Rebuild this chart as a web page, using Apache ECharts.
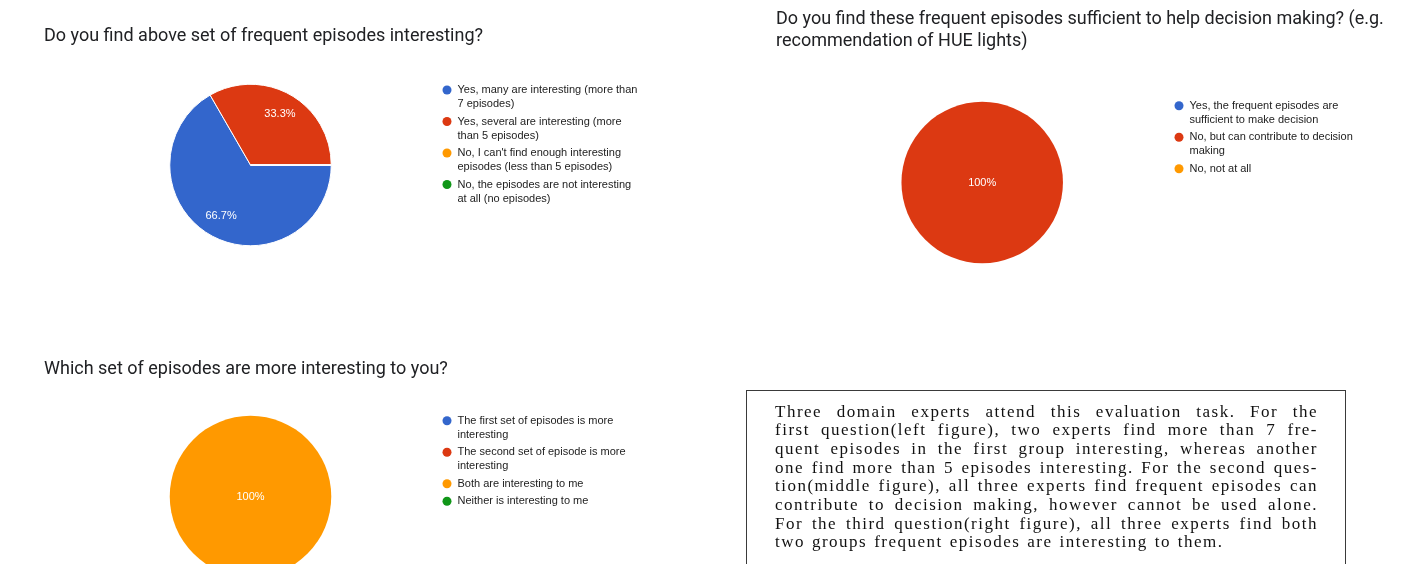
<!DOCTYPE html>
<html>
<head>
<meta charset="utf-8">
<title>Survey results</title>
<script src="https://cdn.jsdelivr.net/npm/echarts@6/dist/echarts.min.js"></script>
<style>
  html, body { margin: 0; padding: 0; background: #ffffff; }
  #wrap { position: relative; width: 1402px; height: 564px; overflow: hidden; }
  #chart { position: absolute; left: 0; top: 0; width: 1402px; height: 564px; }
  #note {
    position: absolute; left: 746px; top: 390px; width: 600px; height: 220px;
    box-sizing: border-box; border: 1px solid #3a3a3a;
    padding: 11.5px 27px 0 28px;
    font-family: "Liberation Serif", "DejaVu Serif", serif; font-size: 17px;
    line-height: 18.7px; color: #111; letter-spacing: 1.5px; word-spacing: 1.2px;
  }
  #note .ln { white-space: nowrap; text-align: justify; text-align-last: justify; }
  #note .ln.last { text-align: left; text-align-last: left; }
</style>
</head>
<body>
<div id="wrap">
  <div id="chart"></div>
  <div id="note"></div>
</div>
<script>
// Google-style answer colours
const palette = ['#3366cc', '#dc3912', '#ff9900', '#109618'];

// Question 1
const q1Title = 'Do you find above set of frequent episodes interesting?';
const q1Options = [
  'Yes, many are interesting (more than 7 episodes)',
  'Yes, several are interesting (more than 5 episodes)',
  "No, I can't find enough interesting episodes (less than 5 episodes)",
  'No, the episodes are not interesting at all (no episodes)'
];
const q1Counts = [2, 1, 0, 0];

// Question 2
const q2Title = 'Do you find these frequent episodes sufficient to help decision making? (e.g.\nrecommendation of HUE lights)';
const q2Options = [
  'Yes, the frequent episodes are sufficient to make decision',
  'No, but can contribute to decision making',
  'No, not at all'
];
const q2Counts = [0, 3, 0];

// Question 3
const q3Title = 'Which set of episodes are more interesting to you?';
const q3Options = [
  'The first set of episodes is more interesting',
  'The second set of episode is more interesting',
  'Both are interesting to me',
  'Neither is interesting to me'
];
const q3Counts = [0, 0, 3, 0];

// Summary paragraph, one entry per typeset line
const noteLines = [
  'Three domain experts attend this evaluation task.  For the',
  'first question(left figure), two experts find more than 7 fre-',
  'quent episodes in the first group interesting, whereas another',
  'one find more than 5 episodes interesting. For the second ques-',
  'tion(middle figure), all three experts find frequent episodes can',
  'contribute to decision making, however cannot be used alone.',
  'For the third question(right figure), all three experts find both',
  'two groups frequent episodes are interesting to them.'
];

// ---- layout constants ----
const R = 80.75;             // pie radius
const LABEL_R0 = 31;         // inner radius of the label ring
const LEG_FONT = '11px "Liberation Sans"';
const LEG_LH = 14;           // legend line height
const LEG_GAP = 3.5;         // gap between legend entries
const LEG_WRAP = 183;        // legend text wrap width
const LEG_ICON_W = 11;

// word-wrap legend text with the same font the legend uses
const measureCtx = document.createElement('canvas').getContext('2d');
measureCtx.font = LEG_FONT;
function wrapText(text) {
  const words = text.split(' ');
  const lines = [];
  let cur = '';
  words.forEach(w => {
    const trial = cur ? cur + ' ' + w : w;
    if (cur && measureCtx.measureText(trial).width > LEG_WRAP) {
      lines.push(cur);
      cur = w;
    } else {
      cur = trial;
    }
  });
  if (cur) lines.push(cur);
  return lines;
}

// dot icon sitting on the first text line of an entry that is h px tall
function dotIcon(h) {
  const cy = LEG_LH / 2;
  return 'path://M0,0M' + LEG_ICON_W + ',' + h +
    'M1,' + cy + 'a4.5,4.5 0 1,0 9,0a4.5,4.5 0 1,0 -9,0Z';
}

// one legend component per run of entries with equal line count
function legendsFor(names, left, top) {
  const out = [];
  let y = top;
  let i = 0;
  while (i < names.length) {
    const n = wrapText(names[i]).length;
    const run = [];
    while (i < names.length && wrapText(names[i]).length === n) run.push(names[i++]);
    const h = n * LEG_LH;
    out.push({
      orient: 'vertical', left: left, top: y, padding: 0,
      itemWidth: LEG_ICON_W, itemHeight: h, itemGap: LEG_GAP,
      icon: dotIcon(h), selectedMode: false,
      itemStyle: { borderWidth: 0 },
      textStyle: {
        fontFamily: 'Liberation Sans', fontSize: 11, color: '#222222',
        lineHeight: LEG_LH
      },
      formatter: name => wrapText(name).join('\n'),
      data: run
    });
    y += run.length * (h + LEG_GAP);
  }
  return out;
}

function pieData(names, counts) {
  return names.map((n, i) => ({ name: n, value: counts[i], itemStyle: { color: palette[i] } }));
}

// filled pie plus a transparent ring carrying the percentage labels
function pies(names, counts, center, labelPos, border) {
  return [
    {
      type: 'pie', center: center, radius: [0, R], startAngle: 0, clockwise: true,
      silent: true, animation: false,
      label: { show: false }, labelLine: { show: false },
      itemStyle: { borderColor: '#ffffff', borderWidth: border },
      data: pieData(names, counts)
    },
    {
      type: 'pie', center: center, radius: [LABEL_R0, R], startAngle: 0, clockwise: true,
      silent: true, animation: false, percentPrecision: 1,
      itemStyle: { color: 'rgba(0,0,0,0)', borderWidth: 0 },
      labelLine: { show: false },
      label: {
        show: true, position: labelPos, color: '#ffffff',
        fontFamily: 'Liberation Sans', fontSize: 11,
        formatter: p => (p.value ? p.percent + '%' : '')
      },
      data: names.map((n, i) => ({ name: n, value: counts[i] }))
    }
  ];
}

const titleStyle = {
  fontFamily: 'Roboto', fontSize: 18, fontWeight: 'normal', color: '#202124', lineHeight: 22
};

const option = {
  backgroundColor: '#ffffff',
  animation: false,
  title: [
    { text: q1Title, left: 44, top: 25.5, padding: 0, textStyle: titleStyle },
    { text: q2Title, left: 776, top: 8.5, padding: 0, textStyle: titleStyle },
    { text: q3Title, left: 44, top: 358, padding: 0, textStyle: titleStyle }
  ],
  legend: [].concat(
    legendsFor(q1Options, 441.5, 83),
    legendsFor(q2Options, 1173.5, 98.7),
    legendsFor(q3Options, 441.5, 413.7)
  ),
  series: [].concat(
    pies(q1Options, q1Counts, [250.5, 165], 'inside', 1),
    pies(q2Options, q2Counts, [982.2, 182.5], 'center', 0),
    pies(q3Options, q3Counts, [250.5, 496.5], 'center', 0)
  )
};

const chart = echarts.init(document.getElementById('chart'), null, { renderer: 'canvas' });
chart.setOption(option);

// summary paragraph
const note = document.getElementById('note');
noteLines.forEach((t, i) => {
  const d = document.createElement('div');
  d.className = 'ln' + (i === noteLines.length - 1 ? ' last' : '');
  d.textContent = t;
  note.appendChild(d);
});
</script>
</body>
</html>
